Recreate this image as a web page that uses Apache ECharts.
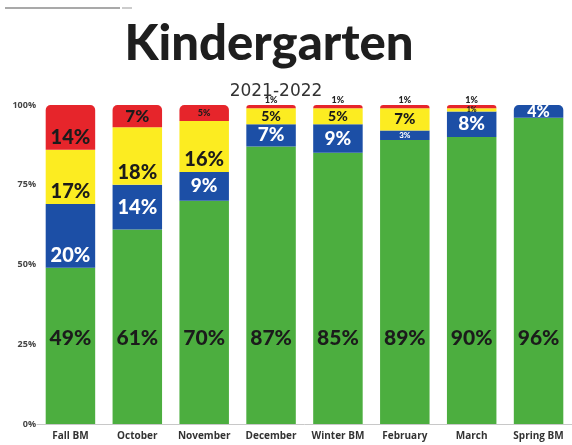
<!DOCTYPE html>
<html>
<head>
<meta charset="utf-8">
<script src="https://cdn.jsdelivr.net/npm/echarts@6/dist/echarts.min.js"></script>
<style>html,body{margin:0;padding:0;background:#fff}#c{width:572px;height:445px}</style>
</head>
<body>
<div id="c"></div>
<script>
const categories = ['Fall BM', 'October', 'November', 'December', 'Winter BM', 'February', 'March', 'Spring BM'];
const greenVals  = [49, 61, 70, 87, 85, 89, 90, 96];
const blueVals   = [20, 14, 9, 7, 9, 3, 8, 4];
const yellowVals = [17, 18, 16, 5, 5, 7, 1, 0];
const redVals    = [14, 7, 5, 1, 1, 1, 1, 0];
const yTickValues = [0, 25, 50, 75, 100];

const COLORS = { green: '#4cae3f', blue: '#1c4fa6', yellow: '#fcec21', red: '#e6252b' };
const FONT = 'Lato';

// label styling per bar (kept apart from the data)
const greenLabel  = { size: [21,21,21,21,21,21,21,21] };
const blueLabel   = { size: [20,20,19,19,19,8,19,16], pos: ['insideBottom','inside','inside','inside','inside','inside','inside','inside'] };
const yellowLabel = { size: [20,20,20,14,14,15,7,0], pos: ['insideBottom','insideBottom','insideBottom','inside','inside','inside','inside','inside'] };
const redLabel    = { size: [20,17,9,9,9,9,9,0], pos: ['insideBottom','inside','inside','top','top','top','top','top'] };

const seriesVals = [greenVals, blueVals, yellowVals, redVals];
function topIndex(i) {
  let t = 0;
  seriesVals.forEach((s, k) => { if (s[i] > 0) t = k; });
  return t;
}

function build(vals, k, color, textColor, lab) {
  return vals.map((v, i) => {
    const item = { value: v };
    if (topIndex(i) === k) item.itemStyle = { borderRadius: [5, 5, 0, 0] };
    const pos = lab.pos ? lab.pos[i] : 'insideBottom';
    item.label = {
      show: v > 0,
      position: pos,
      distance: k === 0 ? 75 : (pos === 'top' ? 0 : 2),
      fontSize: lab.size[i],
      color: pos === 'top' ? '#222' : textColor
    };
    return item;
  });
}

const chart = echarts.init(document.getElementById('c'));
const commonLabel = { formatter: '{c}%', fontFamily: FONT, fontWeight: 900 };

chart.setOption({
  animation: false,
  backgroundColor: '#fff',
  title: [
    { text: 'Kindergarten', left: 264, top: 15, textAlign: 'center',
      textStyle: { fontFamily: FONT, fontWeight: 900, fontSize: 49, color: '#1e1e1e' } },
    { text: '2021-2022', left: 271, top: 78, textAlign: 'center',
      textStyle: { fontFamily: 'DejaVu Sans', fontWeight: 'normal', fontSize: 17, color: '#333' } }
  ],
  graphic: [
    { type: 'line', shape: { x1: 5, y1: 8, x2: 120, y2: 8 }, style: { stroke: '#555', lineWidth: 1.2 } },
    { type: 'line', shape: { x1: 122, y1: 8, x2: 132, y2: 8 }, style: { stroke: '#999', lineWidth: 1 } }
  ],
  grid: { left: 37, width: 539, top: 105, bottom: 21, containLabel: false },
  xAxis: {
    type: 'category', data: categories,
    axisLine: { show: true, lineStyle: { color: '#c8c8c8', width: 1 } },
    axisTick: { show: false },
    axisLabel: { fontFamily: 'Open Sans', fontWeight: 'bold', fontSize: 10, color: '#333', margin: 7, interval: 0 }
  },
  yAxis: {
    type: 'value', min: 0, max: 100, interval: 25,
    axisLine: { show: false }, axisTick: { show: false }, splitLine: { show: false },
    axisLabel: { fontFamily: 'Open Sans', fontWeight: 'bold', fontSize: 9, color: '#444', margin: 1,
      formatter: v => yTickValues.includes(v) ? v + '%' : '' }
  },
  series: [
    { name: 'green', type: 'bar', stack: 't', barWidth: '74%', itemStyle: { color: COLORS.green },
      label: commonLabel, data: build(greenVals, 0, COLORS.green, '#1b1b1b', greenLabel) },
    { name: 'blue', type: 'bar', stack: 't', itemStyle: { color: COLORS.blue },
      label: commonLabel, data: build(blueVals, 1, COLORS.blue, '#ffffff', blueLabel) },
    { name: 'yellow', type: 'bar', stack: 't', itemStyle: { color: COLORS.yellow },
      label: commonLabel, data: build(yellowVals, 2, COLORS.yellow, '#1b1b1b', yellowLabel) },
    { name: 'red', type: 'bar', stack: 't', itemStyle: { color: COLORS.red },
      label: commonLabel, data: build(redVals, 3, COLORS.red, '#1b1b1b', redLabel) }
  ]
});
</script>
</body>
</html>
